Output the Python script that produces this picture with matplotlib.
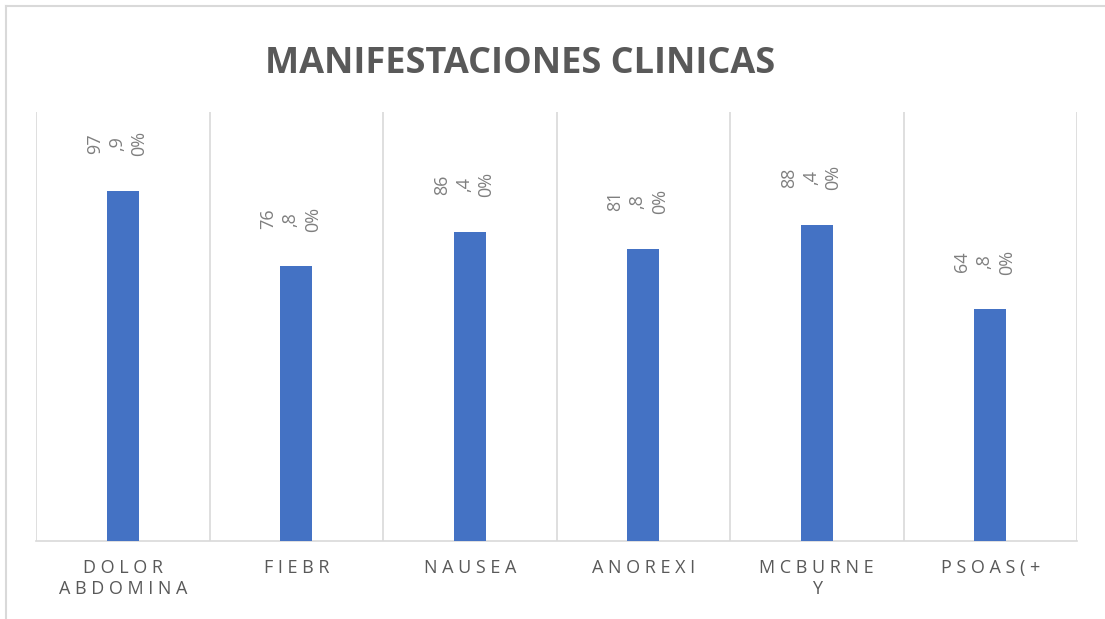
import matplotlib
matplotlib.use("Agg")
import matplotlib.pyplot as plt
from matplotlib.lines import Line2D

categories = ["D O L O R\nA B D O M I N A", "F I E B R", "N A U S E A",
              "A N O R E X I", "M C B U R N E\nY", "P S O A S ( +"]
values = [97.9, 76.8, 86.4, 81.8, 88.4, 64.8]
value_labels = ["97\n,9\n0%", "76\n,8\n0%", "86\n,4\n0%",
                "81\n,8\n0%", "88\n,4\n0%", "64\n,8\n0%"]
title = "MANIFESTACIONES CLINICAS"

plt.rcParams['font.family'] = ['Open Sans', 'DejaVu Sans']

fig = plt.figure(figsize=(11.05, 6.19), dpi=100)
ax = fig.add_axes([36/1105, 1-541/619, (1077-36)/1105, (541-112)/619])

x = list(range(len(categories)))
ax.bar(x, values, width=0.185, color="#4472C4", zorder=3)
ax.set_xlim(-0.5, len(categories)-0.5)
ax.set_ylim(0, 120)

for i in range(len(categories)+1):
    ax.axvline(i-0.5, color="#D9D9D9", lw=1.2, zorder=1)

for s in ["top", "right", "left"]:
    ax.spines[s].set_visible(False)
ax.spines["bottom"].set_color("#D9D9D9")
ax.spines["bottom"].set_linewidth(1.2)
ax.set_yticks([])
ax.set_xticks(x)
ax.set_xticklabels(categories, fontsize=13, color="#595959", linespacing=1.2)
ax.tick_params(axis="x", length=0, pad=13)

for xi, v, lab in zip(x, values, value_labels):
    ax.annotate(lab, (xi, v), xytext=(-4, 25), textcoords="offset points",
                rotation=90, ha="center", va="bottom", fontsize=13,
                color="#7F7F7F", linespacing=1.3, multialignment="center")

fig.text(520/1105, 1-64/619, title, ha="center", va="center",
         fontsize=26, fontweight="bold", color="#595959",
         family=["Open Sans", "DejaVu Sans"])

fig.add_artist(Line2D([6/1105, 1], [1-6/619, 1-6/619], color="#D9D9D9", lw=1.5,
                      transform=fig.transFigure))
fig.add_artist(Line2D([6/1105, 6/1105], [0, 1-6/619], color="#D9D9D9", lw=1.5,
                      transform=fig.transFigure))

fig.savefig("out.png", dpi=100)
